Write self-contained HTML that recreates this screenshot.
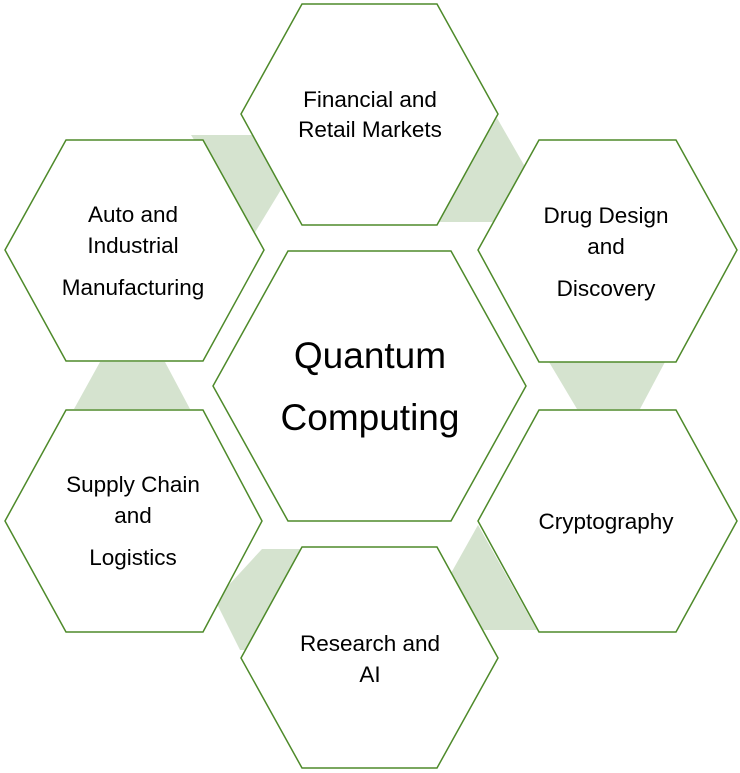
<!DOCTYPE html><html><head><style>body{margin:0;background:#fff}svg{display:block}text{font-family:"Liberation Sans",sans-serif;fill:#000;text-anchor:middle}</style></head><body>
<svg width="740" height="773" viewBox="0 0 740 773">
<g fill="#d5e3cf">
<polygon points="191,135 256,135 282,188 254,234"/>
<polygon points="497,118 524,165 524,222 437,222"/>
<polygon points="100,362 165,362 190,409 74,409"/>
<polygon points="549,362 665,362 640,409 577,409"/>
<polygon points="478,525 450,575 480,630 537,630"/>
<polygon points="262,549 302,549 270,650 240,650 215,600"/>
</g>
<g fill="#fff" stroke="#4e8a2a" stroke-width="1.5">
<polygon points="213,386 288,251 451,251 526,386 451,521 288,521"/>
<polygon points="241,114 302,4 437,4 498,114 437,225 302,225"/>
<polygon points="5,250 66,140 203,140 264,250 203,361 66,361"/>
<polygon points="478,250 539,140 676,140 737,250 676,362 539,362"/>
<polygon points="5,521 66,410 203,410 262,521 203,632 66,632"/>
<polygon points="478,521 539,410 676,410 737,521 676,632 539,632"/>
<polygon points="241,658 302,547 437,547 498,658 437,768 302,768"/>
</g>
<g font-size="22.5">
<text x="370" y="107">Financial and</text><text x="370" y="137">Retail Markets</text>
<text x="133" y="222">Auto and</text><text x="133" y="253">Industrial</text><text x="133" y="295">Manufacturing</text>
<text x="606" y="223">Drug Design</text><text x="606" y="254">and</text><text x="606" y="296">Discovery</text>
<text x="133" y="492">Supply Chain</text><text x="133" y="523">and</text><text x="133" y="565">Logistics</text>
<text x="606" y="529">Cryptography</text>
<text x="370" y="651">Research and</text><text x="370" y="682">AI</text>
</g>
<g font-size="37"><text x="370" y="368">Quantum</text><text x="370" y="430">Computing</text></g>
</svg></body></html>
